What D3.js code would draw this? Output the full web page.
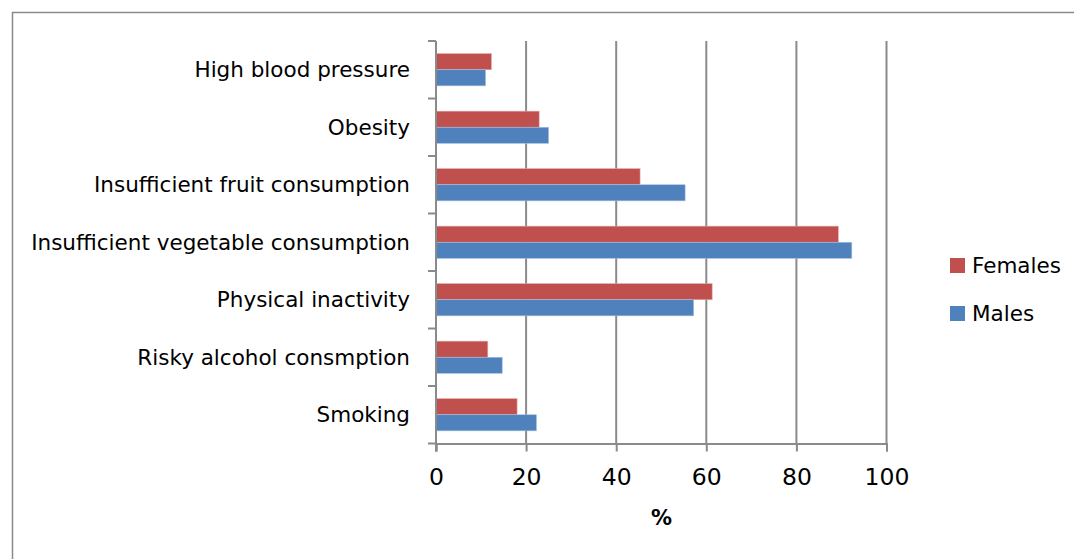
<!DOCTYPE html>
<html>
<head>
<meta charset="utf-8">
<script src="https://cdn.jsdelivr.net/npm/d3@7"></script>
<style>
  html, body { margin: 0; padding: 0; background: #fff; }
  svg { display: block; }
  text { font-family: "DejaVu Sans", "Open Sans", sans-serif; fill: #000; }
</style>
</head>
<body>
<svg id="chart" width="1074" height="559"></svg>
<script>
// Risk factor prevalence (%) by sex
const categories = [
  "High blood pressure",
  "Obesity",
  "Insufficient fruit consumption",
  "Insufficient vegetable consumption",
  "Physical inactivity",
  "Risky alcohol consmption",
  "Smoking"
];
const females = [12.3, 22.9, 45.3, 89.3, 61.3, 11.5, 18.0];
const males   = [11.0, 25.0, 55.3, 92.3, 57.2, 14.7, 22.3];
const seriesNames = ["Females", "Males"];
const seriesColors = ["#C0504D", "#4F81BD"];
const xTicks = [0, 20, 40, 60, 80, 100];
const xTitle = "%";

const svg = d3.select("#chart");
const W = 1074, H = 559;
const plotL = 436, plotR = 886.5, plotT = 41, plotB = 443.5;
const grey = "#8a8a8a";
const lw = 2;
const font = "DejaVu Sans, Open Sans, sans-serif";

// outer frame
svg.append("rect")
  .attr("x", 12.5).attr("y", 12.5)
  .attr("width", W + 10).attr("height", H + 10)
  .attr("fill", "none").attr("stroke", grey).attr("stroke-width", 1.5);

const x = d3.scaleLinear().domain([0, 100]).range([plotL, plotR]);
const y = d3.scaleBand().domain(categories).range([plotT, plotB]).paddingInner(0.44).paddingOuter(0.22);
const sub = d3.scaleBand().domain(seriesNames).range([0, y.bandwidth()]);

// vertical gridlines
svg.append("g").selectAll("line")
  .data(xTicks.filter(t => t > 0))
  .join("line")
  .attr("x1", d => x(d)).attr("x2", d => x(d))
  .attr("y1", plotT).attr("y2", plotB)
  .attr("stroke", grey).attr("stroke-width", lw);

// bars
const rows = categories.map((c, i) => ({ c, vals: [females[i], males[i]] }));
const g = svg.append("g");
rows.forEach(r => {
  r.vals.forEach((v, j) => {
    g.append("rect")
      .attr("x", x(0))
      .attr("y", y(r.c) + sub(seriesNames[j]))
      .attr("width", x(v) - x(0))
      .attr("height", sub.bandwidth())
      .attr("fill", seriesColors[j])
      .attr("stroke", j === 0 ? "#e3a9a7" : "#a9c0de")
      .attr("stroke-width", 0.6);
  });
});

// category axis (boundary ticks between categories)
const boundaries = d3.range(categories.length + 1).map(i => plotT + i * (plotB - plotT) / categories.length);
const ya = svg.append("g");
ya.append("line")
  .attr("x1", plotL).attr("x2", plotL).attr("y1", plotT).attr("y2", plotB + 8)
  .attr("stroke", grey).attr("stroke-width", lw);
ya.selectAll("line.tk").data(boundaries).join("line").attr("class", "tk")
  .attr("x1", plotL - 8).attr("x2", plotL).attr("y1", d => d).attr("y2", d => d)
  .attr("stroke", grey).attr("stroke-width", lw);
ya.selectAll("text").data(categories).join("text")
  .attr("x", plotL - 26)
  .attr("y", d => y(d) + y.bandwidth() / 2)
  .attr("text-anchor", "end")
  .attr("dominant-baseline", "central")
  .attr("font-size", 21.5)
  .text(d => d);

// value axis
const xAxis = d3.axisBottom(x).tickValues(xTicks).tickSize(8).tickPadding(17).tickFormat(d3.format("d"));
const xa = svg.append("g").attr("transform", `translate(0,${plotB})`).call(xAxis);
xa.select(".domain").attr("stroke", grey).attr("stroke-width", lw);
xa.selectAll(".tick line").attr("stroke", grey).attr("stroke-width", lw);
xa.selectAll(".tick text").attr("font-size", 23.5).attr("font-family", font).attr("fill", "#000");

svg.append("text")
  .attr("x", 661.5).attr("y", 518)
  .attr("text-anchor", "middle").attr("dominant-baseline", "central")
  .attr("font-size", 21).attr("font-weight", "bold")
  .text(xTitle);

// legend
const legend = svg.append("g");
seriesNames.forEach((n, i) => {
  const ly = 265.5 + i * 48;
  legend.append("rect")
    .attr("x", 950).attr("y", ly - 7.5).attr("width", 15).attr("height", 15)
    .attr("fill", seriesColors[i]);
  legend.append("text")
    .attr("x", 972).attr("y", ly)
    .attr("dominant-baseline", "central")
    .attr("font-size", 21.5)
    .text(n);
});
</script>
</body>
</html>
